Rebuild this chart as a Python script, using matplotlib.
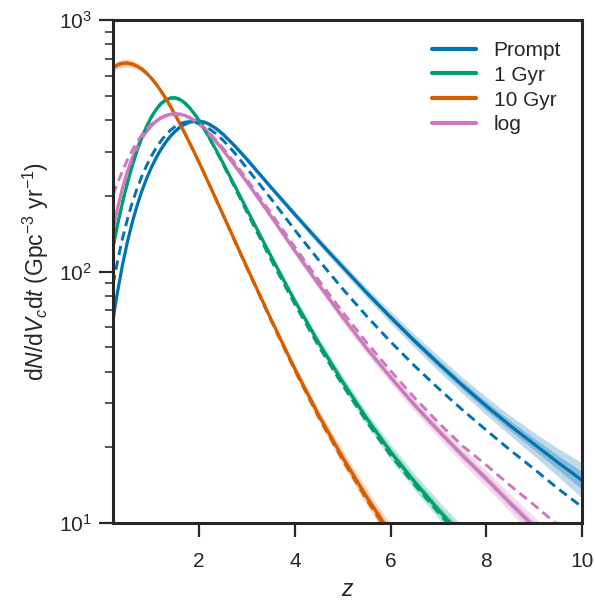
import numpy as np
import matplotlib
matplotlib.use("Agg")
import matplotlib.pyplot as plt
import seaborn as sns

# redshift grid
z = [0.2, 0.25, 0.3, 0.4, 0.5, 0.6, 0.7, 0.8, 0.9, 1.0, 1.1, 1.2, 1.3, 1.4, 1.5, 1.6,
     1.7, 1.8, 1.9, 2.0, 2.1, 2.2, 2.35, 2.5, 2.75, 3.0, 3.5, 4.0, 4.5, 5.0, 5.5, 6.0,
     6.5, 7.0, 7.5, 8.0, 8.5, 9.0, 9.5, 10.0]

# Prompt
prompt = [64.0, 73.9, 84.3, 106.8, 131.1, 156.5, 182.4, 208.4, 234.2, 259.2, 283.1, 305.9,
          326.8, 345.6, 361.9, 375.5, 386.0, 393.2, 396.8, 396.8, 393.2, 386.3, 371.0, 351.4,
          315.0, 279.1, 216.3, 168.7, 132.1, 104.2, 82.4, 65.8, 53.0, 43.1, 35.3, 29.2,
          24.4, 20.6, 17.4, 14.8]
prompt_dash = [89.0, 99.5, 111.4, 135.9, 161.4, 187.5, 213.3, 238.8, 263.6, 287.7, 309.7,
               330.4, 349.1, 364.8, 377.6, 387.3, 392.6, 394.5, 392.6, 387.3, 380.2, 370.7,
               353.2, 332.7, 295.1, 257.0, 195.0, 146.2, 110.9, 85.3, 66.5, 52.6, 42.2, 34.3,
               28.2, 23.4, 19.5, 16.4, 13.7, 11.6]
prompt_err = [0.004, 0.004, 0.004, 0.004, 0.004, 0.004, 0.004, 0.004, 0.004, 0.004, 0.004,
              0.004, 0.004, 0.004, 0.004, 0.004, 0.004, 0.004, 0.004, 0.004, 0.004, 0.004,
              0.005, 0.005, 0.005, 0.006, 0.006, 0.007, 0.008, 0.009, 0.010, 0.012, 0.013,
              0.015, 0.016, 0.018, 0.020, 0.023, 0.028, 0.035]

# 1 Gyr
gyr1 = [125.0, 139.6, 155.2, 188.8, 224.9, 263.0, 302.0, 340.4, 377.2, 411.2, 441.0, 465.0,
        481.4, 489.8, 490.4, 483.1, 468.3, 447.7, 423.6, 397.6, 370.9, 344.1, 305.5, 269.8,
        218.3, 176.1, 115.1, 76.4, 52.0, 36.4, 26.1, 19.2, 14.6, 11.3, 8.85]
gyr1_dash = [125.0, 139.6, 155.2, 188.8, 224.9, 263.0, 302.0, 340.4, 377.2, 411.2, 441.0,
             465.0, 481.4, 489.8, 490.4, 483.1, 468.3, 447.7, 423.6, 397.6, 369.5, 342.0,
             303.0, 266.5, 214.8, 171.7, 111.6, 74.1, 50.4, 35.3, 25.3, 18.6, 14.2, 11.0, 8.6]
gyr1_err = [0.004, 0.004, 0.004, 0.004, 0.004, 0.004, 0.004, 0.004, 0.004, 0.004, 0.004,
            0.004, 0.004, 0.004, 0.004, 0.004, 0.004, 0.004, 0.004, 0.004, 0.004, 0.004,
            0.005, 0.005, 0.006, 0.006, 0.007, 0.008, 0.010, 0.012, 0.013, 0.015, 0.016,
            0.018, 0.020]

# 10 Gyr
gyr10 = [645.7, 656.3, 664.5, 673.8, 674.5, 668.3, 656.1, 638.3, 615.2, 587.5, 556.3, 522.7,
         488.2, 453.4, 419.3, 386.2, 354.7, 325.0, 297.1, 270.9, 246.6, 224.3, 194.2, 168.1,
         132.0, 103.8, 64.7, 41.0, 26.8, 18.2, 12.7, 9.08, 6.55]
gyr10_dash = [645.7, 656.3, 664.5, 673.8, 674.5, 668.3, 656.1, 638.3, 615.2, 587.5, 556.3,
              522.7, 488.2, 453.4, 419.3, 386.2, 354.7, 325.0, 297.1, 270.9, 246.6, 224.3,
              194.0, 167.8, 131.6, 103.0, 64.0, 40.4, 26.3, 17.8, 12.4, 8.85, 6.4]
gyr10_err = [0.008, 0.008, 0.008, 0.008, 0.008, 0.008, 0.007, 0.006, 0.005, 0.004, 0.004,
             0.004, 0.004, 0.004, 0.004, 0.004, 0.004, 0.004, 0.004, 0.004, 0.004, 0.004,
             0.005, 0.005, 0.006, 0.006, 0.007, 0.009, 0.012, 0.014, 0.016, 0.018, 0.019]

# log
logd = [145.9, 162.9, 180.5, 215.8, 250.0, 282.5, 311.9, 338.1, 360.6, 380.2, 396.3, 408.3,
        416.9, 422.2, 424.2, 422.7, 417.8, 409.7, 398.9, 385.8, 370.9, 354.3, 328.9, 303.4,
        263.0, 226.5, 166.0, 120.8, 88.7, 65.8, 49.5, 38.0, 29.5, 23.3, 18.6, 15.0, 12.0,
        9.68, 7.82]
logd_dash = [202, 214, 226, 252, 278, 303, 327, 349, 369, 385, 399, 409, 417, 421, 422, 421,
             416, 408, 398, 386, 375, 359, 333, 309, 269, 232, 171, 125, 92.3, 68.9, 52.2,
             40.3, 31.5, 25.1, 20.3, 17.0, 14.1, 11.8, 9.8]
logd_err = [0.004, 0.004, 0.004, 0.004, 0.004, 0.004, 0.004, 0.004, 0.004, 0.004, 0.004,
            0.004, 0.004, 0.004, 0.004, 0.004, 0.004, 0.004, 0.004, 0.004, 0.004, 0.004,
            0.005, 0.005, 0.006, 0.006, 0.007, 0.008, 0.009, 0.010, 0.011, 0.012, 0.013,
            0.014, 0.016, 0.017, 0.018, 0.020, 0.022]

labels = ["Prompt", "1 Gyr", "10 Gyr", "log"]

sns.set_theme(style="ticks")
plt.rcParams['font.family'] = ['Liberation Sans', 'DejaVu Sans']
plt.rcParams['mathtext.fontset'] = 'custom'
plt.rcParams['mathtext.rm'] = 'Liberation Sans'
plt.rcParams['mathtext.it'] = 'Liberation Sans:italic'
plt.rcParams['mathtext.bf'] = 'Liberation Sans:bold'

pal = sns.color_palette("colorblind")
colors = [pal[0], pal[2], pal[3], pal[4]]

fig = plt.figure(figsize=(5.95, 6.0), dpi=100)
ax = fig.add_axes([0.19, 0.1283, 0.788, 0.8383])

series = [(prompt, prompt_dash, prompt_err), (gyr1, gyr1_dash, gyr1_err),
          (gyr10, gyr10_dash, gyr10_err), (logd, logd_dash, logd_err)]

for (sol, das, err), c, lab in zip(series, colors, labels):
    zs = np.array(z[:len(sol)])
    v = np.array(sol, dtype=float)
    e = np.array(err, dtype=float)
    ax.fill_between(zs, v * 10 ** (-2 * e), v * 10 ** (2 * e), color=c, alpha=0.25, lw=0)
    ax.fill_between(zs, v * 10 ** (-e), v * 10 ** (e), color=c, alpha=0.3, lw=0)
    ax.plot(zs, v, color=c, lw=2.3, label=lab, solid_capstyle='round',
            solid_joinstyle='round')

for (sol, das, err), c in zip(series, colors):
    zd = np.array(z[:len(das)])
    ax.plot(zd, das, color=c, lw=2.1, ls=(0, (3.2, 1.9)))

ax.set_yscale('log')
ax.set_xlim(0.2, 10)
ax.set_ylim(10, 1000)
ax.set_xticks([2, 4, 6, 8, 10])

for s in ax.spines.values():
    s.set_linewidth(2.2)
    s.set_color('#262626')
ax.tick_params(axis='both', which='major', length=10, width=1.6, labelsize=15,
               color='#262626', labelcolor='#262626')
ax.tick_params(axis='x', which='major', pad=11)
ax.tick_params(axis='y', which='major', pad=5)
ax.tick_params(axis='y', which='minor', length=6, width=1.1, color='#262626')

ax.set_xlabel(r'$z$', fontsize=16.5, labelpad=5)
ax.set_ylabel(r'$\mathrm{d}N/\mathrm{d}V_c\mathrm{d}t$ (Gpc$^{-3}$ yr$^{-1}$)', fontsize=16.5,
              labelpad=6)

leg = ax.legend(loc='upper right', frameon=False, fontsize=15, handlelength=2.1,
                handletextpad=0.85, labelspacing=0.28, borderaxespad=0.6)
for line in leg.get_lines():
    line.set_linewidth(3.0)

fig.savefig("out.png", dpi=100)
